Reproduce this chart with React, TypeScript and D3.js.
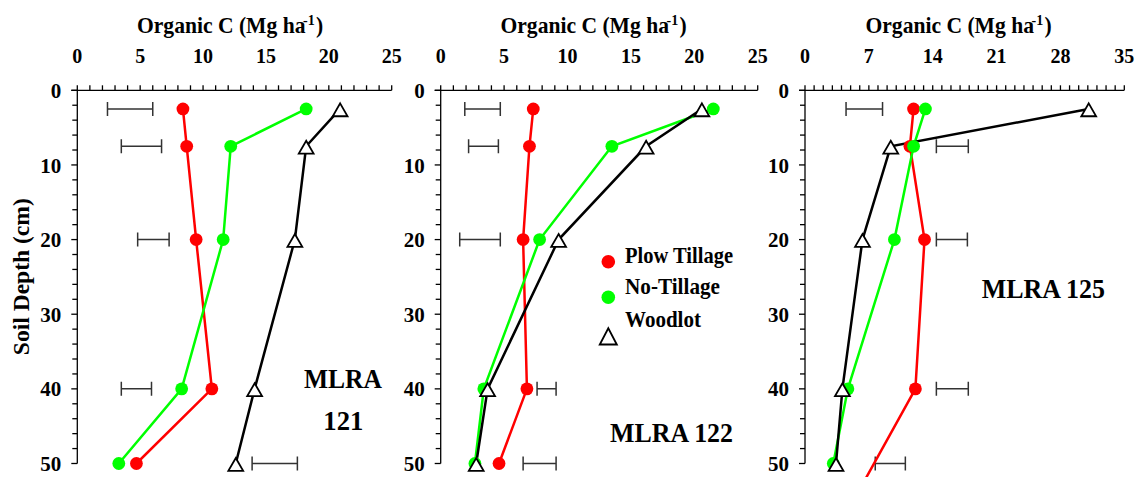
import * as d3 from "d3";

// sampling depths (cm)
const depths = [2.5, 7.5, 20, 40, 50];

// MLRA 121
const plow121 = [8.4, 8.7, 9.45, 10.7, 4.7];
const noTill121 = [18.2, 12.2, 11.6, 8.3, 3.3];
const wood121 = [20.9, 18.2, 17.3, 14.1, 12.6];
const lsdLo121 = [2.4, 3.5, 4.8, 3.5, 13.9];
const lsdHi121 = [6.0, 6.7, 7.3, 5.9, 17.5];

// MLRA 122
const plow122 = [7.3, 7.0, 6.5, 6.8, 4.6];
const noTill122 = [21.5, 13.5, 7.8, 3.4, 2.7];
const wood122 = [20.6, 16.2, 9.3, 3.7, 2.8];
const lsdLo122 = [1.9, 2.2, 1.5, 7.6, 6.5];
const lsdHi122 = [4.7, 4.55, 4.7, 9.1, 9.1];

// MLRA 125 (last plow point falls below the frame)
const plowDepths125 = [2.5, 7.5, 20, 40, 55];
const plow125 = [11.9, 11.5, 13.1, 12.1, 5.3];
const noTill125 = [13.2, 11.9, 9.8, 4.7, 3.1];
const wood125 = [31.1, 9.4, 6.3, 4.1, 3.4];
const lsdLo125 = [4.5, 14.4, 14.4, 14.4, 7.7];
const lsdHi125 = [8.5, 17.9, 17.8, 17.9, 11.0];

const xTicks121 = [0, 5, 10, 15, 20, 25];
const xTicks125 = [0, 7, 14, 21, 28, 35];
const depthTicks = [0, 10, 20, 30, 40, 50];

const legendLabels = ["Plow Tillage", "No-Tillage", "Woodlot"];
const panelNames = ["MLRA 121", "MLRA 122", "MLRA 125"];

const FONT = "Liberation Serif";
const RED = "#ff0000";
const GREEN = "#00ff00";

type Panel = {
  left: number;
  right: number;
  max: number;
  ticks: number[];
  plowDepths: number[];
  plow: number[];
  noTill: number[];
  wood: number[];
  lo: number[];
  hi: number[];
  titleX: number;
};

const panels: Panel[] = [
  { left: 77.3, right: 391.7, max: 25, ticks: xTicks121, plowDepths: depths, plow: plow121, noTill: noTill121, wood: wood121, lo: lsdLo121, hi: lsdHi121, titleX: 137 },
  { left: 440.7, right: 757.7, max: 25, ticks: xTicks121, plowDepths: depths, plow: plow122, noTill: noTill122, wood: wood122, lo: lsdLo122, hi: lsdHi122, titleX: 500.5 },
  { left: 805, right: 1124.3, max: 35, ticks: xTicks125, plowDepths: plowDepths125, plow: plow125, noTill: noTill125, wood: wood125, lo: lsdLo125, hi: lsdHi125, titleX: 865.5 },
];

const y = d3.scaleLinear().domain([0, 50]).range([90.3, 463.5]);
const tri = d3.symbol().type(d3.symbolTriangle).size(95)()!;
const triLegend = d3.symbol().type(d3.symbolTriangle).size(125)()!;

const bold = { fontFamily: FONT, fontWeight: "bold" as const };

function PanelChart({ p }: { p: Panel }) {
  const x = d3.scaleLinear().domain([0, p.max]).range([p.left, p.right]);
  const line = d3.line<[number, number]>().x((d) => x(d[0])).y((d) => y(d[1]));
  const plowPts = p.plow.map((v, i) => [v, p.plowDepths[i]] as [number, number]);
  const ntPts = p.noTill.map((v, i) => [v, depths[i]] as [number, number]);
  const woodPts = p.wood.map((v, i) => [v, depths[i]] as [number, number]);
  const y0 = y(0);
  const titleW = 166;

  return (
    <g>
      {/* top axis */}
      <path d={`M${p.left - 6},${y0}H${p.right}`} stroke="#000" strokeWidth={1.3} />
      {d3.range(0, p.max + 1, 1).map((v) => (
        <line key={v} x1={x(v)} x2={x(v)} y1={y0} y2={y0 - 5} stroke="#000" strokeWidth={1.3} />
      ))}
      {p.ticks.map((v) => (
        <text key={v} x={x(v)} y={62.5} textAnchor="middle" style={{ ...bold, fontSize: 20 }}>
          {v}
        </text>
      ))}

      {/* axis title, superscript as its own text */}
      <text transform={`translate(${p.titleX},33.3) scale(1,1.05)`} style={{ ...bold, fontSize: 21.6 }}>
        Organic C (Mg ha
      </text>
      <text x={p.titleX + titleW} y={25} style={{ ...bold, fontSize: 14 }}>
        -1
      </text>
      <text transform={`translate(${p.titleX + titleW + 13},33.3) scale(1,1.05)`} style={{ ...bold, fontSize: 21.6 }}>
        )
      </text>

      {/* left axis */}
      <path d={`M${p.left},${y(0)}V${y(50)}`} stroke="#000" strokeWidth={1.3} />
      {d3.range(0, 51, 2).map((v) => (
        <line
          key={v}
          x1={p.left}
          x2={p.left - (v % 10 === 0 ? 6 : 5)}
          y1={y(v)}
          y2={y(v)}
          stroke="#000"
          strokeWidth={1.3}
        />
      ))}
      {depthTicks.map((v) => (
        <text key={v} x={p.left - 16} y={y(v)} dy="0.36em" textAnchor="end" style={{ ...bold, fontSize: 21 }}>
          {v}
        </text>
      ))}

      {/* LSD bars */}
      <g stroke="#333" strokeWidth={1.5} fill="none">
        {depths.map((d, i) => {
          const yy = y(d);
          const a = x(p.lo[i]);
          const b = x(p.hi[i]);
          return <path key={i} d={`M${a},${yy - 7}V${yy + 7}M${a},${yy}H${b}M${b},${yy - 7}V${yy + 7}`} />;
        })}
      </g>

      {/* lines */}
      <path d={line(plowPts)!} fill="none" stroke={RED} strokeWidth={2.5} />
      <path d={line(ntPts)!} fill="none" stroke={GREEN} strokeWidth={2.5} />
      <path d={line(woodPts)!} fill="none" stroke="#000" strokeWidth={2.5} />

      {/* markers */}
      {plowPts.map((d, i) => (
        <circle key={"p" + i} cx={x(d[0])} cy={y(d[1])} r={6.4} fill={RED} />
      ))}
      {ntPts.map((d, i) => (
        <circle key={"n" + i} cx={x(d[0])} cy={y(d[1])} r={6.4} fill={GREEN} />
      ))}
      {woodPts.map((d, i) => (
        <path
          key={"w" + i}
          d={tri}
          transform={`translate(${x(d[0])},${y(d[1]) + 3})`}
          fill="#fff"
          stroke="#000"
          strokeWidth={1.8}
        />
      ))}
    </g>
  );
}

export default function App() {
  return (
    <svg width={1139} height={477} style={{ position: "absolute", left: 0, top: 0, background: "#fff" }}>
      {panels.map((p, i) => (
        <PanelChart key={i} p={p} />
      ))}

      {/* y axis title */}
      <text
        transform="translate(28.5,276.7) rotate(-90)"
        textAnchor="middle"
        textLength={157}
        lengthAdjust="spacingAndGlyphs"
        style={{ ...bold, fontSize: 22.5 }}
      >
        Soil Depth (cm)
      </text>

      {/* panel labels */}
      <text x={304} y={388} textLength={78} lengthAdjust="spacingAndGlyphs" style={{ ...bold, fontSize: 27 }}>
        {panelNames[0].split(" ")[0]}
      </text>
      <text x={323.3} y={430} textLength={40} lengthAdjust="spacingAndGlyphs" style={{ ...bold, fontSize: 27 }}>
        {panelNames[0].split(" ")[1]}
      </text>
      <text x={610} y={442} textLength={123} lengthAdjust="spacingAndGlyphs" style={{ ...bold, fontSize: 27 }}>
        {panelNames[1]}
      </text>
      <text x={981.7} y={298} textLength={123.3} lengthAdjust="spacingAndGlyphs" style={{ ...bold, fontSize: 27 }}>
        {panelNames[2]}
      </text>

      {/* legend */}
      <circle cx={608.3} cy={261.7} r={6.8} fill={RED} />
      <circle cx={608.3} cy={297.3} r={6.8} fill={GREEN} />
      <path d={triLegend} transform="translate(608.3,339) scale(1,1.1)" fill="#fff" stroke="#000" strokeWidth={1.8} />
      {legendLabels.map((t, i) => (
        <text
          key={t}
          x={625}
          y={[263.3, 294.3, 327.3][i]}
          textLength={[108, 95, 76][i]}
          lengthAdjust="spacingAndGlyphs"
          style={{ ...bold, fontSize: 24 }}
        >
          {t}
        </text>
      ))}
    </svg>
  );
}
